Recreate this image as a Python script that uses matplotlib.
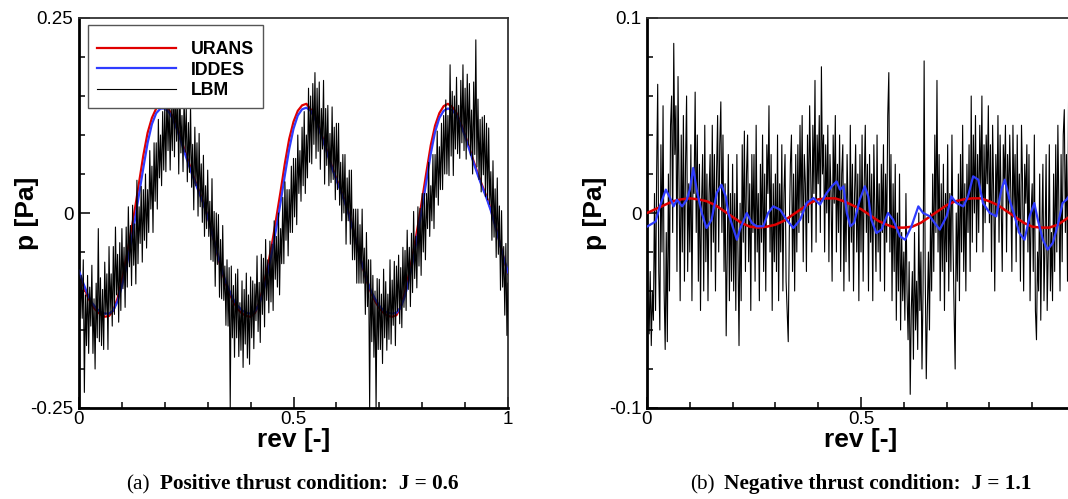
import matplotlib
matplotlib.use("Agg")
import matplotlib.pyplot as plt
import numpy as np
from matplotlib.ticker import FixedLocator, FixedFormatter, MultipleLocator

plt.rcParams["font.family"] = ["Liberation Sans", "DejaVu Sans"]
plt.rcParams["axes.unicode_minus"] = False

# (a) J = 0.6 -- URANS / IDDES sampled every 0.01 rev
urans_a = [
    -0.077, -0.093, -0.107, -0.118, -0.125, -0.130, -0.133, -0.132, -0.125, -0.109,
    -0.086, -0.059, -0.029, 0.004, 0.039, 0.074, 0.103, 0.122, 0.134, 0.139,
    0.138, 0.132, 0.122, 0.108, 0.091, 0.074, 0.058, 0.042, 0.028, 0.013,
    -0.004, -0.025, -0.047, -0.069, -0.087, -0.102, -0.114, -0.123, -0.129, -0.132,
    -0.133, -0.128, -0.115, -0.094, -0.068, -0.039, -0.006, 0.028, 0.064, 0.095,
    0.117, 0.131, 0.138, 0.140, 0.133, 0.123, 0.109, 0.093, 0.076, 0.059,
    0.044, 0.030, 0.015, -0.002, -0.023, -0.045, -0.067, -0.086, -0.101, -0.113,
    -0.122, -0.128, -0.132, -0.133, -0.131, -0.120, -0.101, -0.076, -0.048, -0.016,
    0.018, 0.053, 0.087, 0.112, 0.128, 0.137, 0.140, 0.136, 0.128, 0.115,
    0.100, 0.083, 0.066, 0.050, 0.035, 0.021, 0.005, -0.014, -0.036, -0.058,
    -0.078,
]
iddes_a = [
    -0.074, -0.090, -0.104, -0.115, -0.122, -0.127, -0.129, -0.129, -0.125, -0.113,
    -0.094, -0.070, -0.042, -0.010, 0.024, 0.058, 0.090, 0.114, 0.128, 0.134,
    0.134, 0.129, 0.119, 0.105, 0.088, 0.071, 0.055, 0.040, 0.026, 0.012,
    -0.005, -0.025, -0.046, -0.067, -0.085, -0.099, -0.111, -0.119, -0.125, -0.128,
    -0.129, -0.126, -0.117, -0.100, -0.077, -0.050, -0.019, 0.014, 0.049, 0.082,
    0.108, 0.125, 0.133, 0.135, 0.131, 0.121, 0.107, 0.091, 0.074, 0.057,
    0.042, 0.028, 0.013, -0.004, -0.024, -0.045, -0.066, -0.084, -0.099, -0.110,
    -0.119, -0.125, -0.128, -0.129, -0.128, -0.121, -0.106, -0.084, -0.057, -0.026,
    0.007, 0.042, 0.076, 0.104, 0.122, 0.131, 0.134, 0.132, 0.125, 0.113,
    0.098, 0.081, 0.064, 0.048, 0.033, 0.019, 0.003, -0.016, -0.037, -0.058,
    -0.076,
]
# LBM, every 0.0025 rev (one row = 0.05 rev)
lbm_a = [
    -0.060, -0.135, -0.080, -0.135, -0.060, -0.230, -0.105, -0.170, -0.080, -0.180,
    -0.095, -0.145, -0.067, -0.180, -0.110, -0.200, -0.090, -0.160, -0.020, -0.165,
    -0.083, -0.170, -0.098, -0.175, -0.063, -0.130, -0.078, -0.175, -0.043, -0.130,
    -0.078, -0.145, -0.043, -0.130, -0.018, -0.105, -0.053, -0.140, -0.038, -0.125,
    -0.020, -0.097, -0.044, -0.121, -0.018, -0.095, 0.008, -0.069, -0.016, -0.093,
    0.010, -0.067, -0.014, -0.091, 0.042, -0.065, 0.008, -0.039, 0.034, -0.063,
    0.030, -0.035, 0.050, -0.045, 0.030, -0.025, 0.080, 0.005, 0.060, -0.025,
    0.090, 0.015, 0.090, 0.005, 0.120, 0.045, 0.100, 0.035, 0.130, 0.055,
    0.140, 0.053, 0.156, 0.080, 0.142, 0.055, 0.137, 0.080, 0.180, 0.072,
    0.162, 0.092, 0.150, 0.050, 0.168, 0.077, 0.125, 0.053, 0.150, 0.078,
    0.135, 0.040, 0.116, 0.052, 0.138, 0.033, 0.088, 0.004, 0.110, 0.035,
    0.090, -0.004, 0.102, 0.008, 0.063, -0.012, 0.074, -0.030, 0.035, -0.020,
    0.055, -0.030, 0.015, -0.060, 0.044, -0.062, 0.002, -0.094, 0.000, -0.066,
    -0.002, -0.108, -0.034, -0.110, -0.016, -0.112, -0.068, -0.144, -0.060, -0.145,
    -0.070, -0.250, -0.068, -0.160, -0.093, -0.185, -0.078, -0.160, -0.072, -0.184,
    -0.115, -0.176, -0.087, -0.198, -0.098, -0.168, -0.077, -0.186, -0.105, -0.194,
    -0.082, -0.160, -0.087, -0.174, -0.091, -0.138, -0.055, -0.152, -0.089, -0.166,
    -0.053, -0.130, -0.058, -0.146, -0.034, -0.112, -0.060, -0.128, -0.036, -0.114,
    -0.040, -0.125, -0.010, -0.085, -0.030, -0.095, 0.000, -0.105, -0.020, -0.065,
    0.020, -0.065, 0.040, -0.035, 0.030, -0.055, 0.030, -0.025, 0.060, -0.025,
    0.070, -0.005, 0.070, -0.015, 0.100, 0.025, 0.080, 0.015, 0.110, 0.035,
    0.130, 0.025, 0.100, 0.045, 0.160, 0.065, 0.150, 0.063, 0.166, 0.088,
    0.180, 0.070, 0.160, 0.079, 0.168, 0.056, 0.134, 0.082, 0.170, 0.037,
    0.134, 0.061, 0.138, 0.035, 0.102, 0.039, 0.136, 0.043, 0.110, 0.017,
    0.115, 0.030, 0.115, 0.010, 0.065, -0.010, 0.075, 0.000, 0.075, -0.040,
    0.045, -0.010, 0.055, -0.040, 0.055, -0.060, 0.005, -0.060, 0.005, -0.090,
    0.005, -0.090, -0.015, -0.090, 0.005, -0.090, -0.045, -0.130, -0.025, -0.120,
    -0.060, -0.250, -0.060, -0.165, -0.080, -0.185, -0.100, -0.252, -0.084, -0.175,
    -0.085, -0.175, -0.104, -0.193, -0.072, -0.160, -0.088, -0.176, -0.104, -0.162,
    -0.060, -0.168, -0.086, -0.144, -0.062, -0.170, -0.068, -0.126, -0.054, -0.142,
    -0.070, -0.147, -0.044, -0.121, -0.048, -0.125, -0.022, -0.098, -0.044, -0.120,
    -0.026, -0.102, 0.002, -0.084, -0.030, -0.096, 0.008, -0.068, 0.006, -0.080,
    0.025, -0.050, 0.025, -0.060, 0.025, -0.020, 0.065, -0.030, 0.035, -0.010,
    0.075, -0.020, 0.075, 0.020, 0.105, 0.010, 0.085, 0.030, 0.115, 0.030,
    0.125, 0.050, 0.145, 0.050, 0.125, 0.048, 0.190, 0.073, 0.156, 0.048,
    0.150, 0.082, 0.174, 0.076, 0.138, 0.070, 0.170, 0.090, 0.190, 0.080,
    0.160, 0.069, 0.178, 0.087, 0.166, 0.074, 0.132, 0.050, 0.168, 0.075,
    0.222, 0.059, 0.146, 0.043, 0.120, 0.027, 0.123, 0.049, 0.125, 0.021,
    0.115, 0.017, 0.109, 0.011, 0.053, -0.035, 0.067, -0.031, 0.031, -0.057,
    0.045, -0.053, 0.009, -0.099, 0.003, -0.095, -0.043, -0.131, -0.039, -0.157,
    -0.090,
]

# (b) J = 1.1
urans_b = [  # every 0.02 rev
    0.000, 0.002, 0.004, 0.006, 0.007, 0.0075, 0.007, 0.006, 0.004, 0.001,
    -0.002, -0.005, -0.007, -0.0075, -0.007, -0.006, -0.004, -0.001, 0.002, 0.005,
    0.007, 0.0075, 0.0075, 0.006, 0.004, 0.002, -0.001, -0.004, -0.006, -0.0075,
    -0.0075, -0.007, -0.005, -0.002, 0.001, 0.004, 0.006, 0.007, 0.0075, 0.0075,
    0.006, 0.004, 0.001, -0.002, -0.005, -0.007, -0.0075, -0.0075, -0.006, -0.003,
    0.000,
]
iddes_b_rev = [
    0.000, 0.020, 0.030, 0.044, 0.054, 0.062, 0.070, 0.082, 0.093, 0.100,
    0.108, 0.116, 0.128, 0.139, 0.151, 0.163, 0.174, 0.184, 0.190, 0.200,
    0.210, 0.217, 0.233, 0.245, 0.256, 0.272, 0.283, 0.295, 0.311, 0.326,
    0.342, 0.358, 0.373, 0.389, 0.404, 0.420, 0.432, 0.443, 0.451, 0.459,
    0.467, 0.475, 0.484, 0.497, 0.509, 0.517, 0.524, 0.536, 0.548, 0.563,
    0.575, 0.591, 0.603, 0.618, 0.634, 0.645, 0.661, 0.672, 0.684, 0.700,
    0.711, 0.723, 0.739, 0.750, 0.762, 0.774, 0.785, 0.801, 0.816, 0.828,
    0.836, 0.847, 0.859, 0.870, 0.882, 0.894, 0.905, 0.913, 0.925, 0.936,
    0.948, 0.959, 0.971, 0.980, 0.990, 1.000,
]
iddes_b = [
    -0.0070, -0.0044, 0.0034, 0.0120, 0.0077, 0.0034, 0.0068, 0.0034, 0.0068, 0.0120,
    0.0231, 0.0120, 0.0000, -0.0077, -0.0034, 0.0103, 0.0145, 0.0085, 0.0000, -0.0068,
    -0.0137, -0.0085, 0.0000, -0.0051, -0.0068, -0.0068, 0.0000, 0.0034, 0.0017, -0.0034,
    -0.0077, -0.0034, 0.0051, 0.0077, 0.0043, 0.0103, 0.0137, 0.0162, 0.0120, 0.0137,
    0.0000, -0.0068, -0.0050, 0.0068, 0.0137, 0.0085, -0.0034, -0.0103, -0.0085, 0.0000,
    -0.0034, -0.0120, -0.0137, -0.0068, 0.0034, 0.0000, -0.0017, -0.0051, -0.0085, -0.0017,
    0.0085, 0.0051, 0.0034, 0.0085, 0.0188, 0.0171, 0.0051, 0.0000, -0.0017, 0.0120,
    0.0171, 0.0068, -0.0017, -0.0103, -0.0137, -0.0017, 0.0051, -0.0034, -0.0137, -0.0188,
    -0.0154, -0.0068, 0.0051, 0.0068, 0.0100, 0.0060,
]
lbm_b = [  # every 0.0025 rev
    -0.005, -0.045, -0.062, -0.030, -0.068, -0.040, -0.055, 0.010, -0.050, 0.020,
    0.066, -0.030, -0.060, 0.035, -0.020, 0.055, -0.040, -0.070, -0.010, -0.066,
    0.020, -0.040, 0.045, 0.060, -0.010, 0.087, 0.030, 0.055, -0.030, 0.070,
    0.010, -0.045, 0.040, -0.020, 0.050, -0.035, 0.025, 0.060, -0.030, 0.015,
    -0.020, 0.035, -0.045, 0.020, 0.010, 0.062, -0.010, 0.040, -0.035, 0.025,
    -0.050, 0.005, 0.030, -0.040, 0.045, -0.025, 0.020, -0.045, 0.010, 0.030,
    -0.030, 0.045, -0.015, 0.030, -0.040, 0.020, 0.050, -0.020, 0.035, 0.057,
    -0.010, 0.040, -0.030, 0.015, -0.063, -0.020, 0.030, -0.045, 0.010, -0.035,
    0.025, -0.040, 0.010, -0.050, 0.030, -0.020, -0.068, 0.005, -0.045, 0.035,
    -0.015, 0.042, -0.030, 0.020, 0.040, -0.025, 0.015, -0.050, 0.030, -0.010,
    0.030, -0.035, 0.045, -0.020, 0.010, -0.045, 0.025, -0.015, 0.040, -0.030,
    0.020, -0.040, 0.035, 0.010, 0.055, -0.020, 0.030, -0.050, 0.015, -0.025,
    0.020, -0.030, 0.040, -0.045, 0.015, -0.020, 0.035, -0.040, 0.010, 0.030,
    -0.035, -0.050, -0.066, -0.010, 0.025, 0.040, -0.030, 0.020, -0.040, 0.030,
    -0.020, 0.035, -0.010, 0.045, 0.000, 0.050, -0.025, 0.030, 0.015, -0.030,
    0.040, -0.005, 0.055, 0.020, -0.020, 0.045, 0.010, 0.068, -0.015, 0.040,
    0.015, 0.050, -0.010, 0.075, 0.020, 0.040, -0.020, 0.035, 0.000, 0.045,
    -0.025, 0.030, 0.010, -0.035, 0.040, 0.005, 0.050, -0.020, 0.025, -0.010,
    0.040, -0.030, 0.020, 0.035, -0.040, 0.015, -0.025, 0.030, 0.000, -0.035,
    0.045, -0.015, 0.025, -0.040, 0.010, 0.035, -0.020, 0.020, -0.045, 0.030,
    -0.020, 0.040, -0.035, 0.015, 0.045, -0.010, 0.025, -0.040, 0.030, -0.015,
    0.020, -0.045, 0.035, 0.000, -0.030, 0.040, -0.020, 0.015, -0.035, 0.025,
    -0.010, 0.035, -0.040, 0.020, -0.015, 0.050, 0.072, -0.020, 0.030, -0.045,
    0.015, -0.030, 0.025, -0.055, 0.000, -0.040, 0.020, -0.060, -0.010, -0.045,
    -0.020, -0.055, 0.010, -0.040, -0.065, -0.025, -0.093, -0.050, -0.030, -0.075,
    -0.010, -0.060, -0.035, -0.070, 0.000, -0.050, -0.020, -0.080, -0.040, 0.078,
    -0.030, -0.085, -0.050, -0.020, -0.060, 0.000, -0.040, 0.020, -0.030, 0.040,
    -0.010, 0.068, -0.020, 0.030, -0.045, 0.015, -0.030, 0.025, -0.050, 0.010,
    -0.025, 0.035, -0.040, 0.010, -0.030, 0.040, -0.015, -0.050, -0.080, 0.000,
    -0.035, 0.020, -0.045, 0.030, -0.020, 0.045, -0.030, 0.015, -0.040, 0.025,
    -0.010, 0.035, -0.030, 0.060, -0.015, 0.040, 0.000, 0.050, -0.020, 0.030,
    -0.010, 0.045, 0.010, 0.060, -0.020, 0.035, -0.005, 0.040, 0.015, 0.055,
    -0.005, 0.035, -0.030, 0.045, 0.010, -0.040, 0.030, 0.000, 0.050, -0.015,
    0.040, 0.005, -0.030, 0.035, 0.015, 0.045, -0.020, 0.030, 0.000, 0.040,
    0.010, -0.030, 0.045, 0.000, 0.030, -0.025, 0.040, -0.010, 0.020, -0.035,
    0.045, 0.015, -0.040, 0.025, 0.005, 0.035, -0.020, 0.030, -0.045, 0.000,
    0.015, -0.030, 0.040, -0.050, -0.065, -0.020, -0.040, 0.020, -0.055, -0.010,
    0.025, -0.045, -0.015, 0.030, -0.050, -0.020, 0.035, -0.040, -0.010, -0.045,
    0.020, -0.030, 0.035, -0.020, 0.045, 0.000, -0.040, 0.030, -0.025, 0.040,
    0.053, -0.010, 0.030, -0.035, 0.060, 0.005, 0.040, -0.020, 0.035, 0.000,
    0.020,
]

RED = "#e00000"
BLUE = "#2f3cff"


def style_axes(ax, ylim, yticks, ylabels, yminor, xlabels):
    ax.set_xlim(0, 1)
    ax.set_ylim(*ylim)
    ax.xaxis.set_major_locator(FixedLocator([0, 0.5, 1]))
    ax.xaxis.set_major_formatter(FixedFormatter(xlabels))
    ax.xaxis.set_minor_locator(MultipleLocator(0.1))
    ax.yaxis.set_major_locator(FixedLocator(yticks))
    ax.yaxis.set_major_formatter(FixedFormatter(ylabels))
    ax.yaxis.set_minor_locator(MultipleLocator(yminor))
    ax.tick_params(which="both", direction="in", top=False, right=False,
                   width=1.1, labelsize=13.5)
    ax.tick_params(which="major", length=8)
    ax.tick_params(which="minor", length=4.5)
    ax.tick_params(axis="x", pad=2)
    ax.tick_params(axis="y", pad=4)
    for side in ("left", "bottom"):
        ax.spines[side].set_linewidth(2.0)
    for side in ("top", "right"):
        ax.spines[side].set_linewidth(1.3)
        ax.spines[side].set_color("#333333")
    ax.set_xlabel("rev [-]", fontsize=19, fontweight="bold", labelpad=0)
    ax.set_ylabel("p [Pa]", fontsize=19, fontweight="bold")
    ax.yaxis.set_label_coords(-0.093, 0.5)


fig = plt.figure(figsize=(10.68, 4.99), dpi=100)
ax_a = fig.add_axes([79 / 1068, 1 - 408 / 499, 429 / 1068, 390 / 499])
ax_b = fig.add_axes([647 / 1068, 1 - 408 / 499, 428 / 1068, 390 / 499])

ax_a.plot(np.linspace(0, 1, len(urans_a)), urans_a, color=RED, lw=1.6, label="URANS", zorder=2)
ax_a.plot(np.linspace(0, 1, len(iddes_a)), iddes_a, color=BLUE, lw=1.6, label="IDDES", zorder=3)
ax_a.plot(np.linspace(0, 1, len(lbm_a)), lbm_a, color="black", lw=0.8, label="LBM", zorder=4)
style_axes(ax_a, (-0.25, 0.25), [-0.25, 0, 0.25], ["-0.25", "0", "0.25"], 0.05,
           ["0", "0.5", "1"])

leg = ax_a.legend(loc="upper left", bbox_to_anchor=(0.022, 0.982), borderaxespad=0,
                  prop={"weight": "bold", "size": 12.8}, handlelength=4.45,
                  handletextpad=0.83, labelspacing=0.19, borderpad=0.5,
                  title=" ", title_fontsize=3,
                  fancybox=False, framealpha=1, edgecolor="#555555")
leg.get_frame().set_linewidth(1.0)
leg.set_zorder(10)

ax_b.plot(np.linspace(0, 1, len(lbm_b)), lbm_b, color="black", lw=0.8, zorder=2)
ax_b.plot(np.linspace(0, 1, len(urans_b)), urans_b, color=RED, lw=1.8, zorder=3)
ax_b.plot(iddes_b_rev, iddes_b, color=BLUE, lw=1.6, zorder=4)
style_axes(ax_b, (-0.1, 0.1), [-0.1, 0, 0.1], ["-0.1", "0", "0.1"], 0.02,
           ["0", "0.5", ""])

cap_y = 1 - 489 / 499
cap_kw = dict(fontsize=15.3, family=["Liberation Serif", "DejaVu Serif"], va="baseline")
fig.text(150 / 1068, cap_y, "(a)", ha="right", **cap_kw)
fig.text(159.5 / 1068, cap_y, "Positive thrust condition:  J = 0.6", ha="left",
         fontweight="bold", **cap_kw)
fig.text(715 / 1068, cap_y, "(b)", ha="right", **cap_kw)
fig.text(724 / 1068, cap_y, "Negative thrust condition:  J = 1.1", ha="left",
         fontweight="bold", **cap_kw)

fig.savefig("out.png", dpi=100)
